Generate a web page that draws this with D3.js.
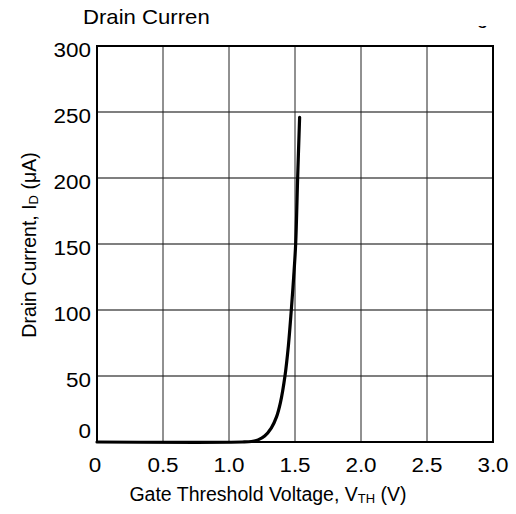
<!DOCTYPE html>
<html><head><meta charset="utf-8">
<script src="https://cdn.jsdelivr.net/npm/d3@7"></script>
<style>body{margin:0;background:#fff}text{font-family:"Liberation Sans",Arial,sans-serif;fill:#000}</style>
</head><body><svg id="c" width="516" height="514"></svg>
<script>
const xTicks = [0, 0.5, 1.0, 1.5, 2.0, 2.5, 3.0];
const xTickLabels = ["0", "0.5", "1.0", "1.5", "2.0", "2.5", "3.0"];
const yTicks = [0, 50, 100, 150, 200, 250, 300];
const vth = [0, 1.10, 1.17, 1.22, 1.27, 1.32, 1.36, 1.39, 1.424, 1.45, 1.472, 1.49, 1.505, 1.52, 1.535];
const idUA = [0, 0, 0.4, 1.6, 4.5, 10.5, 19, 30, 50, 73, 100, 125, 150, 200, 246];
const titleText = "Drain Curren";
const xLabel = "Gate Threshold Voltage, V";
const yLabel = "Drain Current, I";

const svg = d3.select("#c");
const L = 97, R = 493, T = 46, B = 442;
const x = d3.scaleLinear().domain([0, 3]).range([L, R]);
const y = d3.scaleLinear().domain([0, 300]).range([B, T]);

// grid
svg.append("g").selectAll("line").data(yTicks.slice(1, -1)).join("line")
  .attr("x1", L).attr("x2", R).attr("y1", d => y(d)).attr("y2", d => y(d))
  .attr("stroke", "#555").attr("stroke-width", 1.5);
svg.append("g").selectAll("line").data(xTicks.slice(1, -1)).join("line")
  .attr("y1", T).attr("y2", B).attr("x1", d => x(d)).attr("x2", d => x(d))
  .attr("stroke", "#222").attr("stroke-width", 1);

// frame
svg.append("rect").attr("x", L).attr("y", T).attr("width", R - L).attr("height", B - T)
  .attr("fill", "none").attr("stroke", "#000").attr("stroke-width", 2);

// curve
const pts = vth.map((v, i) => [v, idUA[i]]);
svg.append("path").datum(pts)
  .attr("d", d3.line().x(d => x(d[0])).y(d => y(d[1])).curve(d3.curveCatmullRom.alpha(0.5)))
  .attr("fill", "none").attr("stroke", "#000").attr("stroke-width", 3.2).attr("stroke-linecap", "round");

const sx = 1.15;
// y tick labels
svg.append("g").selectAll("text").data(yTicks).join("text")
  .attr("transform", d => `translate(${L - 6},${d === 0 ? y(d) - 4 : y(d) + 11}) scale(${sx},1)`)
  .attr("text-anchor", "end").attr("font-size", 19.5).text(d => d);
// x tick labels
svg.append("g").selectAll("text").data(xTicks).join("text")
  .attr("transform", d => `translate(${x(d) - (d === 0 ? 2 : 0)},472) scale(${sx},1)`)
  .attr("text-anchor", "middle").attr("font-size", 19.5).text((d, i) => xTickLabels[i]);

// title
svg.append("text").attr("transform", "translate(83,24) scale(1.08,1)").attr("font-size", 20.5).text(titleText);
// clipped fragment at top right
svg.append("clipPath").attr("id", "cp").append("rect").attr("x", 460).attr("y", 26).attr("width", 40).attr("height", 10);
svg.append("text").attr("clip-path", "url(#cp)").attr("x", 477).attr("y", 24).attr("font-size", 20).text("g");

// x label
const xl = svg.append("text").attr("transform", "translate(268,501)")
  .attr("text-anchor", "middle").attr("font-size", 19.5);
xl.append("tspan").text(xLabel);
xl.append("tspan").attr("font-size", 13).attr("dy", 2).text("TH");
xl.append("tspan").attr("dy", -2).text(" (V)");

// y label
const yl = svg.append("text").attr("transform", "translate(36,245) rotate(-90)")
  .attr("text-anchor", "middle").attr("font-size", 19.5);
yl.append("tspan").text(yLabel);
yl.append("tspan").attr("font-size", 13).attr("dy", 2).text("D");
yl.append("tspan").attr("dy", -2).text(" (\u03bcA)");
</script></body></html>
